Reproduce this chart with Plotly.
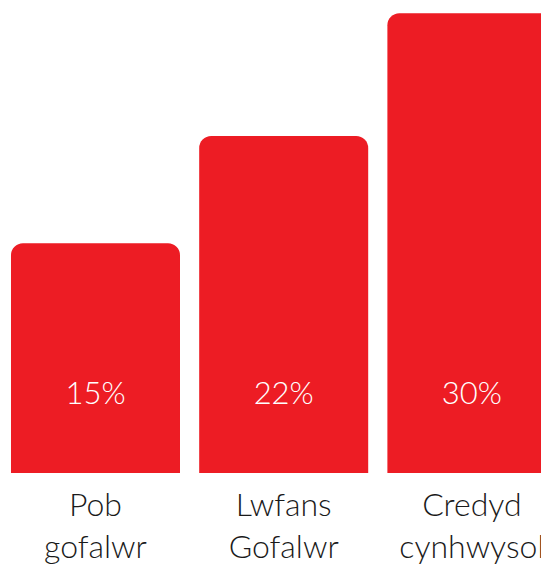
import plotly.graph_objects as go

categories = ["Pob<br>gofalwr", "Lwfans<br>Gofalwr", "Credyd<br>cynhwysol"]
values = [15, 22, 30]
value_labels = ["15%", "22%", "30%"]
label_y = 5.0  # height (in % units) where value labels sit inside bars

BAR_COLOR = "#ED1C24"
FONT = "Lato"

fig = go.Figure()
fig.add_trace(go.Bar(
    x=categories,
    y=values,
    marker=dict(color=BAR_COLOR, line=dict(width=0)),
    hoverinfo="skip",
))
fig.add_trace(go.Scatter(
    x=categories,
    y=[label_y] * len(categories),
    mode="text",
    text=value_labels,
    textfont=dict(family=FONT, size=31, color="white", weight=300),
    hoverinfo="skip",
))

# page body has an 8px default margin, so the figure is sized to fill the rest
fig.update_layout(
    width=541,
    height=557,
    margin=dict(l=0, r=0, t=0, b=92, pad=0),
    paper_bgcolor="white",
    plot_bgcolor="white",
    showlegend=False,
    bargap=0.102,
    barcornerradius=12,
    xaxis=dict(
        range=[-0.4649, 2.4097],
        showgrid=False,
        zeroline=False,
        showline=False,
        ticks="",
        tickfont=dict(family=FONT, size=32, color="#1a1a1a", weight=300),
        ticklabelstandoff=10,
    ),
    yaxis=dict(
        range=[0, 30.35],
        visible=False,
    ),
)

fig.write_html("out.html")
